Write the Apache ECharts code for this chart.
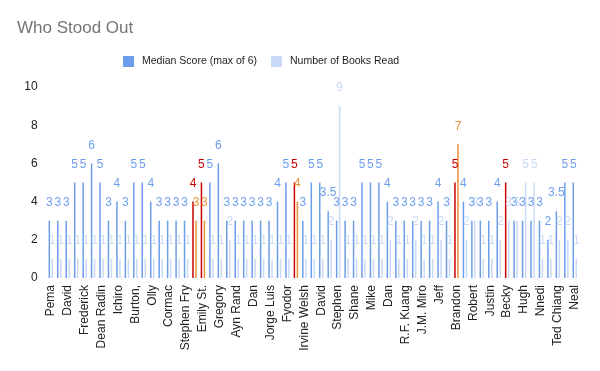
<!DOCTYPE html>
<html>
<head>
<meta charset="utf-8">
<script src="https://cdn.jsdelivr.net/npm/echarts@6/dist/echarts.min.js"></script>
<style>html,body{margin:0;padding:0;background:#fff}#c{width:600px;height:371px}</style>
</head>
<body>
<div id="c"></div>
<script>
// Categories (every other name is shown on the axis; unlabeled ones are unknown)
const categories = [
  'Pema','','David','','Frederick','','Dean Radin','','Ichiro','','Burton,','','Olly','','Cormac','',
  'Stephen Fry','','Emily St.','','Gregory','','Ayn Rand','','Dan','','Jorge Luis','','Fyodor','',
  'Irvine Welsh','','David','','Stephen','','Shane','','Mike','','Dan','','R.F. Kuang','','J.M. Miro','',
  'Jeff','','Brandon','','Robert','','Justin','','Becky','','Hugh','','Nnedi','','Ted Chiang','','Neal'
];
const medianScore = [
  3,3,3,5,5,6,5,3,4,3,5,5,4,3,3,3,
  3,4,5,5,6,3,3,3,3,3,3,4,5,5,
  3,5,5,3.5,3,3,3,5,5,5,4,3,3,3,3,3,
  4,3,5,4,3,3,3,4,5,3,3,3,3,2,3.5,5,5
];
const booksRead = [
  1,1,1,1,1,1,1,1,1,1,1,1,1,1,1,1,
  1,3,3,1,1,2,1,1,1,1,1,1,1,4,
  1,1,1,2,9,1,1,1,1,1,2,1,1,2,1,1,
  2,1,7,2,3,1,1,2,3,3,5,5,1,1,2,2,1
];
// Highlighted people (index into categories)
const highlightMedian = [17, 18, 29, 48, 54];
const highlightBooks = [17, 18, 29, 48];

const BLUE = '#6d9eeb', LIGHT = '#c9daf8', RED = '#cc0000', ORANGE = '#e69138';

function build(values, hl, base, hlColor) {
  return values.map((v, i) => {
    const c = hl.includes(i) ? hlColor : base;
    return { value: v, itemStyle: { color: c }, label: { color: c } };
  });
}

const chart = echarts.init(document.getElementById('c'), null, { renderer: 'canvas' });
chart.setOption({
  animation: false,
  backgroundColor: '#ffffff',
  title: {
    text: 'Who Stood Out', left: 17, top: 20, padding: 0,
    textStyle: { fontFamily: 'Liberation Sans, Arial', fontSize: 17, fontWeight: 'normal', color: '#757575' }
  },
  legend: {
    top: 56, left: 123, padding: 0, itemWidth: 11, itemHeight: 11, itemGap: 14,
    icon: 'rect',
    textStyle: { fontFamily: 'Liberation Sans, Arial', fontSize: 10.5, color: '#222', padding: [0, 0, 0, 3] },
    data: ['Median Score (max of 6)', 'Number of Books Read']
  },
  grid: { left: 46.6, right: 21, top: 87, bottom: 93 },
  xAxis: {
    type: 'category', data: categories,
    axisLine: { show: false }, axisTick: { show: false },
    axisLabel: { interval: 1, rotate: 90, margin: 7, fontFamily: 'Liberation Sans, Arial', fontSize: 12, color: '#222' }
  },
  yAxis: {
    type: 'value', min: 0, max: 10, interval: 2,
    splitLine: { show: false }, axisLine: { show: false }, axisTick: { show: false },
    axisLabel: { margin: 9, fontFamily: 'Liberation Sans, Arial', fontSize: 12, color: '#222' }
  },
  series: [
    {
      name: 'Median Score (max of 6)', type: 'bar', barWidth: 1.5, barGap: '100%',
      itemStyle: { color: BLUE },
      label: { show: true, position: 'top', distance: 12, fontFamily: 'Liberation Sans, Arial', fontSize: 12 },
      data: build(medianScore, highlightMedian, BLUE, RED)
    },
    {
      name: 'Number of Books Read', type: 'bar', barWidth: 1.5, barGap: '100%',
      itemStyle: { color: LIGHT },
      label: { show: true, position: 'top', distance: 12, fontFamily: 'Liberation Sans, Arial', fontSize: 12 },
      data: build(booksRead, highlightBooks, LIGHT, ORANGE)
    }
  ]
});
</script>
</body>
</html>
